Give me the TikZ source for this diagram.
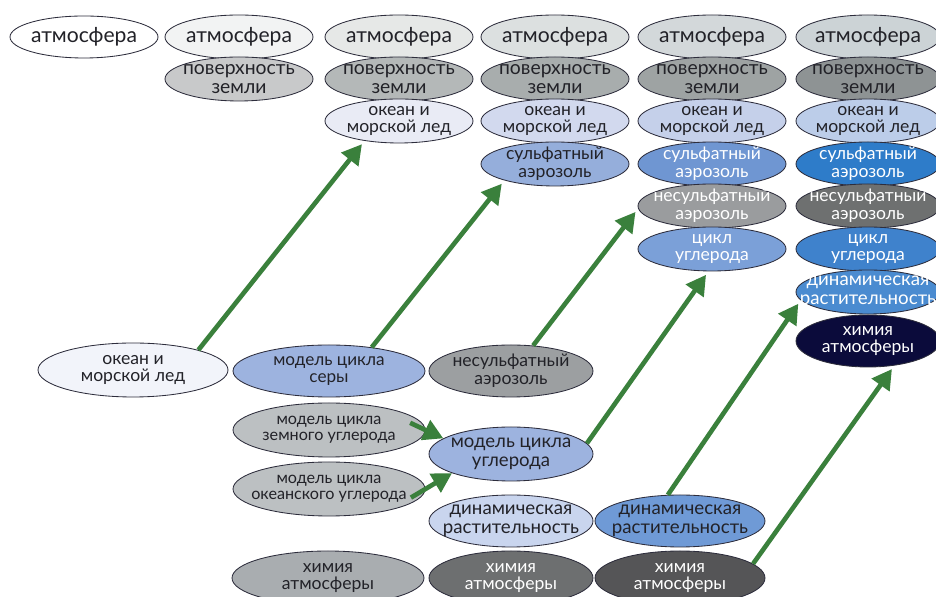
\documentclass[tikz,border=0pt]{standalone}
\usepackage{fontspec}
\setmainfont{Lato}
\usetikzlibrary{arrows.meta,shapes.geometric}

\definecolor{ink}{RGB}{34,34,40}
\definecolor{edge}{RGB}{45,45,60}
\definecolor{arrowgreen}{RGB}{58,128,60}
% fills, light to dark
\definecolor{atmA}{RGB}{242,243,243}
\definecolor{atmB}{RGB}{230,232,231}
\definecolor{atmC}{RGB}{220,224,224}
\definecolor{atmD}{RGB}{211,216,218}
\definecolor{atmE}{RGB}{204,211,214}
\definecolor{srfA}{RGB}{200,201,202}
\definecolor{srfB}{RGB}{180,184,184}
\definecolor{srfC}{RGB}{168,173,173}
\definecolor{srfD}{RGB}{158,163,163}
\definecolor{srfE}{RGB}{142,147,148}
\definecolor{ocnA}{RGB}{242,244,250}
\definecolor{ocnB}{RGB}{233,235,245}
\definecolor{ocnC}{RGB}{210,217,238}
\definecolor{ocnD}{RGB}{197,208,234}
\definecolor{ocnE}{RGB}{188,205,233}
\definecolor{sulA}{RGB}{157,179,223}
\definecolor{sulB}{RGB}{149,174,219}
\definecolor{sulC}{RGB}{111,150,210}
\definecolor{sulD}{RGB}{46,124,201}
\definecolor{nsuA}{RGB}{156,159,161}
\definecolor{nsuB}{RGB}{154,156,158}
\definecolor{nsuC}{RGB}{110,112,112}
\definecolor{carA}{RGB}{188,192,194}
\definecolor{carB}{RGB}{123,160,216}
\definecolor{carC}{RGB}{63,130,204}
\definecolor{dynA}{RGB}{201,213,238}
\definecolor{dynB}{RGB}{111,154,214}
\definecolor{dynC}{RGB}{74,139,208}
\definecolor{chmA}{RGB}{169,173,176}
\definecolor{chmB}{RGB}{109,111,112}
\definecolor{chmC}{RGB}{85,85,87}
\definecolor{chmD}{RGB}{11,11,59}

\tikzset{
  layer/.style={ellipse, draw=edge, line width=0.6pt, inner xsep=-1.7cm, inner ysep=-0.45cm,
    align=center, text=ink, minimum width=3.7cm, minimum height=1.1cm, fs=15},
  fs/.style={font=\fontsize{#1}{#1}\selectfont},
  dark/.style={text=white},
  link/.style={-{Triangle[length=14pt,width=15pt]}, line width=3.3pt, draw=arrowgreen,
    shorten >=3pt},
}

\begin{document}
\begin{tikzpicture}
  \useasboundingbox (0,0) rectangle (23.4,14.925);

  % model versions, one column each
  \node[layer, fill=white, minimum height=1.05cm] (c0atm) at (2.1,14.0) {атмосфера};

  \node[layer, fill=atmA] (c1atm) at (5.975,14.0) {атмосфера};
  \node[layer, fill=srfA, fs=13.75] (c1srf) at (5.975,12.95) {поверхность\\земли};

  \node[layer, fill=atmB] (c2atm) at (9.975,14.0) {атмосфера};
  \node[layer, fill=srfB, fs=13.75] (c2srf) at (9.975,12.95) {поверхность\\земли};
  \node[layer, fill=ocnB, fs=12.5] (c2ocn) at (9.975,11.9) {океан и\\морской лед};

  \node[layer, fill=atmC] (c3atm) at (13.875,14.0) {атмосфера};
  \node[layer, fill=srfC, fs=13.75] (c3srf) at (13.875,12.95) {поверхность\\земли};
  \node[layer, fill=ocnC, fs=12.5] (c3ocn) at (13.875,11.9) {океан и\\морской лед};
  \node[layer, fill=sulB, fs=12.5] (c3sul) at (13.875,10.825) {сульфатный\\аэрозоль};

  \node[layer, fill=atmD] (c4atm) at (17.8,14.0) {атмосфера};
  \node[layer, fill=srfD, fs=13.75] (c4srf) at (17.8,12.95) {поверхность\\земли};
  \node[layer, fill=ocnD, fs=12.5] (c4ocn) at (17.8,11.9) {океан и\\морской лед};
  \node[layer, fill=sulC, dark, fs=12.5] (c4sul) at (17.8,10.825) {сульфатный\\аэрозоль};
  \node[layer, fill=nsuB, dark, fs=12.5] (c4nsu) at (17.8,9.775) {несульфатный\\аэрозоль};
  \node[layer, fill=carB, dark, fs=12.5] (c4car) at (17.8,8.7) {цикл\\углерода};

  \node[layer, fill=atmE, minimum width=3.6cm] (c5atm) at (21.7,14.0) {атмосфера};
  \node[layer, fill=srfE, minimum width=3.6cm, fs=13.75] (c5srf) at (21.7,12.95) {поверхность\\земли};
  \node[layer, fill=ocnE, minimum width=3.6cm, fs=12.5] (c5ocn) at (21.7,11.9) {океан и\\морской лед};
  \node[layer, fill=sulD, dark, minimum width=3.6cm, fs=12.5] (c5sul) at (21.7,10.825) {сульфатный\\аэрозоль};
  \node[layer, fill=nsuC, dark, minimum width=3.6cm, fs=12.5] (c5nsu) at (21.7,9.775) {несульфатный\\аэрозоль};
  \node[layer, fill=carC, dark, minimum width=3.6cm, fs=12.5] (c5car) at (21.7,8.7) {цикл\\углерода};
  \node[layer, fill=dynC, dark, minimum width=3.6cm, fs=13.3] (c5dyn) at (21.7,7.625) {динамическая\\растительность};
  \node[layer, fill=chmD, dark, minimum width=3.6cm, minimum height=1.3cm, fs=12.5] (c5chm) at (21.7,6.4) {химия\\атмосферы};

  % new components
  \node[layer, fill=ocnA, minimum width=4.75cm, minimum height=1.35cm, fs=12.5] (ocean) at (3.325,5.675) {океан и\\морской лед};
  \node[layer, fill=sulA, minimum width=4.8cm, minimum height=1.3cm, fs=12.2] (sulfmod) at (8.225,5.65) {модель цикла\\серы};
  \node[layer, fill=nsuA, minimum width=4.1cm, minimum height=1.3cm, fs=12.5] (nsulf) at (12.775,5.65) {несульфатный\\аэрозоль};
  \node[layer, fill=carA, minimum width=4.8cm, minimum height=1.35cm, fs=11.5] (landc) at (8.225,4.175) {модель цикла\\земного углерода};
  \node[layer, fill=carA, minimum width=4.8cm, minimum height=1.35cm, fs=11.5] (oceanc) at (8.225,2.7) {модель цикла\\океанского углерода};
  \node[layer, fill=sulA, minimum width=4.1cm, minimum height=1.35cm, fs=13.2] (carbmod) at (12.775,3.575) {модель цикла\\углерода};
  \node[layer, fill=dynA, minimum width=4.1cm, minimum height=1.3cm, fs=13.3] (dynA) at (12.775,1.9) {динамическая\\растительность};
  \node[layer, fill=dynB, minimum width=4.25cm, minimum height=1.3cm, fs=13.3] (dynB) at (17.0,1.9) {динамическая\\растительность};
  \node[layer, fill=chmA, minimum width=4.8cm, minimum height=1.35cm, fs=12.5] (chemA) at (8.2,0.475) {химия\\атмосферы};
  \node[layer, fill=chmB, dark, minimum width=4.1cm, minimum height=1.35cm, fs=12.5] (chemB) at (12.775,0.475) {химия\\атмосферы};
  \node[layer, fill=chmC, dark, minimum width=4.25cm, minimum height=1.35cm, fs=12.5] (chemC) at (17.0,0.475) {химия\\атмосферы};

  % couplings
  \draw[link] (ocean.17)   -- (c2ocn.210);
  \draw[link] (sulfmod.29) -- (c3sul.198);
  \draw[link] (nsulf.49)   -- (c4nsu.182);
  \draw[link] (carbmod.8)  -- (c4car.261);
  \draw[link] (dynB.115)   -- (c5dyn.187);
  \draw[link] (chemC.11)   -- (c5chm.317);
  \draw[link, shorten <=-12pt, shorten >=0pt] (landc.east)  -- (carbmod.167);
  \draw[link, shorten <=-12pt, shorten >=0pt] (oceanc.east) -- (carbmod.198);
\end{tikzpicture}
\end{document}
